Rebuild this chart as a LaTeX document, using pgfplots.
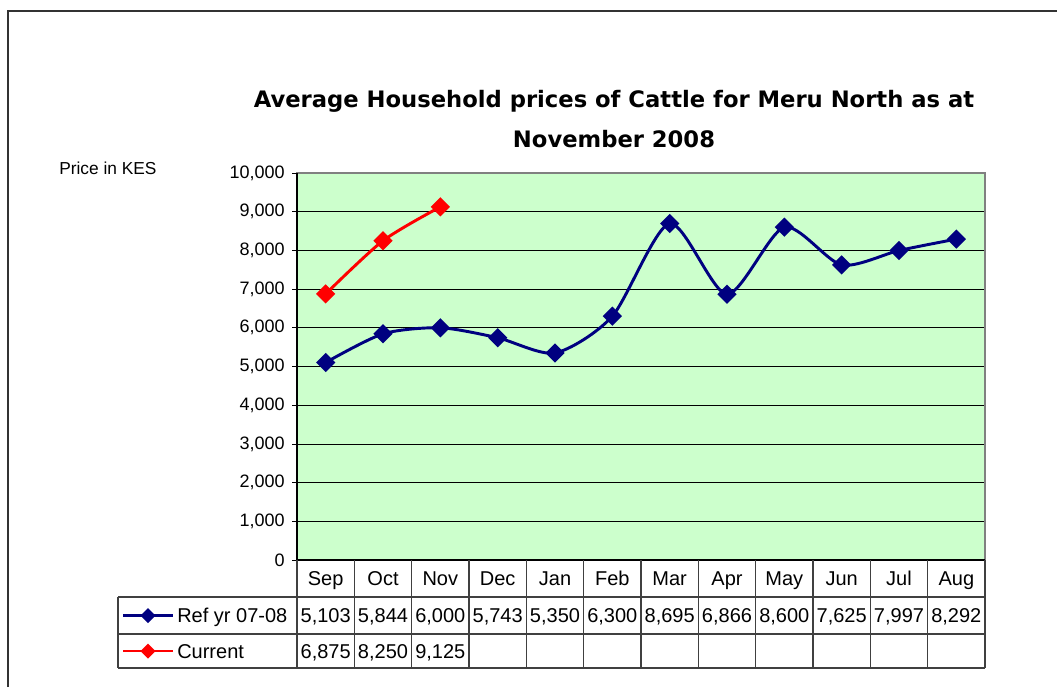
\documentclass[border=0pt]{standalone}
\usepackage{pgfplots}
\pgfplotsset{compat=1.18}
\usepackage{fontspec}
\setmainfont{Liberation Sans}
\newfontfamily\titlefont{DejaVu Sans}
\definecolor{plotgreen}{HTML}{CCFFCC}
\definecolor{navy}{HTML}{000080}
\begin{document}
\begin{tikzpicture}[x=0.75pt,y=0.75pt]
\useasboundingbox (0,0) rectangle (1057,687);
% outer frame
\draw[line width=1.1pt, black!80] (8,0) -- (8,676) -- (1057,676);
% title
\node[font=\titlefont\bfseries\fontsize{17}{30}\selectfont, align=center] at (614,568)
  {Average Household prices of Cattle for Meru North as at\\November 2008};
% y label
\node[anchor=west, font=\fontsize{13}{15}\selectfont, inner sep=0pt] at (59,519) {Price in KES};
\begin{axis}[
  at={(222.75pt,95.25pt)}, anchor=south west, scale only axis,
  width=516pt, height=290.25pt,
  xmin=0, xmax=12, ymin=0, ymax=10000,
  ytick={0,1000,...,10000}, xtick=\empty,
  ytick pos=left,
  scaled y ticks=false,
  yticklabel style={xshift=-2pt, /pgf/number format/.cd, 1000 sep={,}, assume math mode=true},
  tick label style={font=\fontsize{13.5}{15}\selectfont},
  ymajorgrids, grid style={black, line width=0.6pt},
  axis background/.style={fill=plotgreen},
  axis line style={draw=gray, line width=0.9pt},
  tick align=outside, major tick length=3.75pt,
  ytick style={black, line width=0.6pt},
  clip=false,
]
\addplot[navy, line width=2.2pt, smooth, tension=0.45, mark=square*, mark size=4pt,
  mark options={rotate=45, solid, fill=navy}] coordinates {
  (0.5,5103) (1.5,5844) (2.5,6000) (3.5,5743) (4.5,5350) (5.5,6300)
  (6.5,8695) (7.5,6866) (8.5,8600) (9.5,7625) (10.5,7997) (11.5,8292)};
\addplot[red, line width=2.2pt, smooth, tension=0.45, mark=square*, mark size=4pt,
  mark options={rotate=45, solid, fill=red}] coordinates {
  (0.5,6875) (1.5,8250) (2.5,9125)};
\draw[black, line width=0.9pt] (rel axis cs:0,0) -- (rel axis cs:0,1);
\draw[black, line width=0.9pt] (rel axis cs:0,0) -- (rel axis cs:1,0);
\end{axis}
% data table
\begin{scope}[line width=0.8pt, draw=black!75]
\draw (118,90) -- (985,90);
\draw (118,53) -- (985,53);
\draw (118,19) -- (985,19);
\draw (118,90) -- (118,19);
\foreach \i in {0,...,12} {
  \draw ({297+57.3333*\i},127) -- ({297+57.3333*\i},19);
}
\end{scope}
\foreach [count=\i from 0] \m in {Sep,Oct,Nov,Dec,Jan,Feb,Mar,Apr,May,Jun,Jul,Aug} {
  \node[anchor=base, font=\fontsize{15}{17}\selectfont, inner sep=0pt] at ({297+57.3333*\i+28.667},101.3) {\m};
}
\foreach [count=\i from 0] \v in {{5,103},{5,844},{6,000},{5,743},{5,350},{6,300},{8,695},{6,866},{8,600},{7,625},{7,997},{8,292}} {
  \node[anchor=base, font=\fontsize{15}{17}\selectfont, inner sep=0pt] at ({297+57.3333*\i+28.667},64.3) {\v};
}
\foreach [count=\i from 0] \v in {{6,875},{8,250},{9,125}} {
  \node[anchor=base, font=\fontsize{15}{17}\selectfont, inner sep=0pt] at ({297+57.3333*\i+28.667},28.8) {\v};
}
% legend keys
\draw[navy, line width=2.2pt] (123,71.5) -- (173,71.5);
\fill[navy] (148,71.5) +(-7.5,0) -- +(0,7.5) -- +(7.5,0) -- +(0,-7.5) -- cycle;
\node[anchor=base west, font=\fontsize{15}{17}\selectfont, inner sep=0pt] at (177,64.3) {Ref yr 07-08};
\draw[red, line width=2.2pt] (123,36) -- (173,36);
\fill[red] (148,36) +(-7.5,0) -- +(0,7.5) -- +(7.5,0) -- +(0,-7.5) -- cycle;
\node[anchor=base west, font=\fontsize{15}{17}\selectfont, inner sep=0pt] at (177,28.8) {Current};
\end{tikzpicture}
\end{document}
